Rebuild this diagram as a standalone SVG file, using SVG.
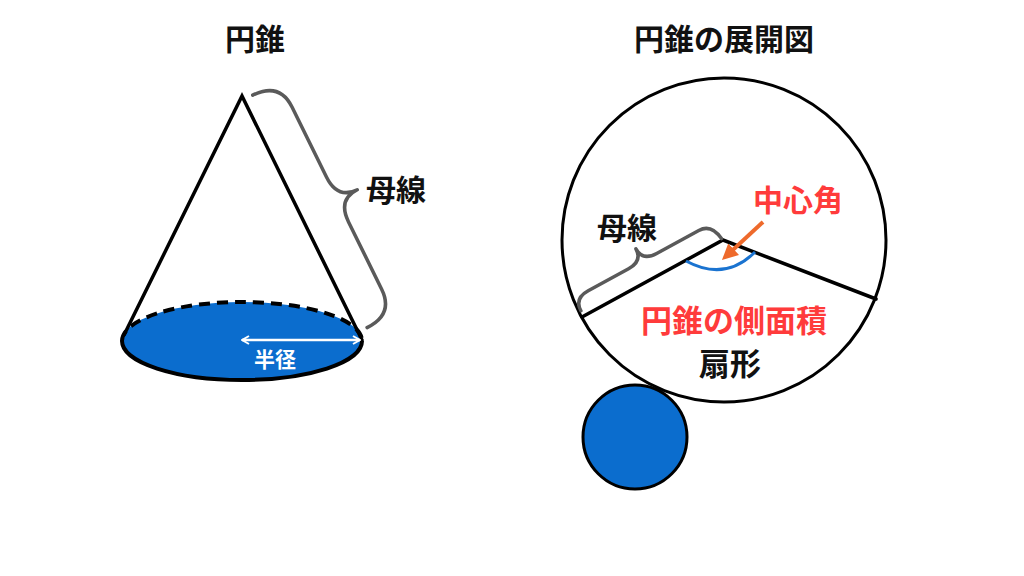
<svg xmlns="http://www.w3.org/2000/svg" width="1024" height="576" viewBox="0 0 1024 576">
<defs>
<style>
text{font-family:"Noto Sans CJK JP","Noto Sans CJK SC",sans-serif;font-weight:700;text-anchor:middle}
.t{font-size:30px;fill:#111}
.red{fill:#ff3b3b}
.brace{fill:none;stroke:#5a5a5a;stroke-width:3.5;stroke-linecap:round;stroke-linejoin:round}
.ln{stroke:#000;stroke-width:3.5;fill:none;stroke-linecap:round;stroke-linejoin:miter}
.blue{fill:#0b6dce}
</style>
<marker id="wh" viewBox="0 0 10 10" refX="9" refY="5" markerWidth="10" markerHeight="10" markerUnits="userSpaceOnUse" orient="auto-start-reverse"><path d="M2,1 L9,5 L2,9" fill="none" stroke="#fff" stroke-width="2"/></marker>
<marker id="or" viewBox="0 0 10 10" refX="4" refY="5" markerWidth="16" markerHeight="16" markerUnits="userSpaceOnUse" orient="auto"><path d="M0,0 L10,5 L0,10 z" fill="#ee6a2c"/></marker>
</defs>
<rect width="1024" height="576" fill="#fff"/>
<g id="title-cone"><text class="t" x="255" y="50">円錐</text></g>
<g id="title-net"><text class="t" x="724" y="50">円錐の展開図</text></g>
<g id="cone">
<ellipse class="blue" cx="242" cy="341" rx="120" ry="39"/>
<path d="M122,341 A120,39 0 0 1 362,341" fill="none" stroke="#000" stroke-width="4" stroke-dasharray="11 7"/>
<path d="M122,341 A120,39 0 0 0 362,341" fill="none" stroke="#000" stroke-width="4"/>
<path d="M124,335 L242,96 L362,340" class="ln"/>
<text x="275" y="367" style="font-size:21px;fill:#fff">半径</text>
</g>
<g id="brace-cone">
<path class="brace" transform="translate(242,96) rotate(63.8)" d="M4,-10 Q4,-40 32,-40 L110,-40 Q135,-40 135,-62 Q135,-40 160,-40 L235,-40 Q263,-40 263,-10"/>
<text class="t" x="396" y="201">母線</text>
</g>
<g id="net">
<circle cx="724" cy="240" r="162" fill="#fff" stroke="#000" stroke-width="3"/>
<path d="M582,317 L723,240 L876,299" class="ln"/>
<path d="M686,261 Q725,282 755,252" fill="none" stroke="#1a73d0" stroke-width="3"/>
<text x="734" y="332" class="red" style="font-size:31px">円錐の側面積</text>
<text class="t" x="730" y="375" style="font-size:31px">扇形</text>
</g>
<g id="brace-net">
<path class="brace" transform="translate(582,317) rotate(-28.64)" d="M2,-6 Q2,-20 18,-20 L64,-20 Q80,-20 80,-34 Q80,-20 96,-20 L144,-20 Q158,-20 160,-2"/>
<text class="t" x="627" y="239">母線</text>
</g>
<g id="label-angle"><text class="red" x="798" y="211" style="font-size:30px">中心角</text></g>
<g id="base-circle"><circle class="blue" cx="635" cy="437" r="52" stroke="#000" stroke-width="3"/></g>
<g id="connectors">
<line x1="242" y1="340" x2="360" y2="340" stroke="#fff" stroke-width="2.5" marker-start="url(#wh)" marker-end="url(#wh)"/>
<line x1="763" y1="222" x2="729" y2="253.5" stroke="#ee6a2c" stroke-width="4" marker-end="url(#or)"/>
</g>
</svg>
